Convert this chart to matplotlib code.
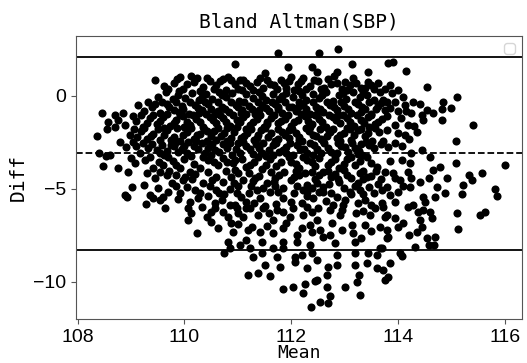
import numpy as np
import matplotlib.pyplot as plt

# limits of agreement
mean_diff = -3.1
upper_loa = 2.1
lower_loa = -8.3

# (mean, diff) points, grouped by vertical band
top_pts = [(110.95, 1.71), (111.76, 2.30), (112.52, 2.30), (112.88, 2.53), (113.14, 1.72),
           (113.82, 1.76), (111.51, 1.26), (111.94, 1.55), (112.38, 1.58), (112.48, 1.31),
           (112.85, 1.31), (113.44, 1.31), (113.91, 1.81), (114.15, 1.35), (114.54, 0.47)]

band_a = [(109.45, 0.86), (109.62, 0.55), (109.80, 0.72), (109.92, 1.04), (110.05, 0.62),
          (110.13, 1.08), (110.23, 0.95), (110.35, 0.50), (110.48, 0.80), (110.60, 0.58),
          (110.72, 0.90), (110.82, 1.04), (110.95, 0.65), (111.04, 0.86), (111.10, 0.86),
          (111.22, 0.52), (111.35, 0.75), (111.54, 0.86), (111.48, 0.45), (111.68, 0.60),
          (111.80, 0.88), (111.90, 0.45), (112.00, 1.04), (112.12, 0.62), (112.22, 0.95),
          (112.35, 0.55), (112.50, 0.78), (112.69, 0.90), (112.62, 0.42), (112.85, 0.68),
          (112.95, 0.40), (113.10, 0.59), (113.16, 0.95), (113.30, 0.45), (113.44, 0.77),
          (113.55, 0.35), (113.66, 0.23), (113.85, 0.59), (114.00, 0.32), (113.88, 0.14),
          (109.70, 0.35), (109.86, 0.90), (109.98, 0.40), (110.18, 0.75), (110.30, 0.28),
          (110.42, 0.95), (110.55, 0.38), (110.66, 0.78), (110.78, 0.32), (110.88, 0.85),
          (111.00, 0.40), (111.16, 0.70), (111.28, 0.30), (111.42, 0.95), (111.60, 0.62),
          (111.74, 0.35), (111.86, 0.70), (111.96, 0.78), (112.06, 0.30), (112.18, 0.82),
          (112.28, 0.38), (112.42, 0.85), (112.56, 0.35), (112.75, 0.62), (112.80, 1.05),
          (113.00, 0.75), (113.05, 0.30), (113.22, 0.70), (113.38, 0.42), (113.50, 0.60),
          (113.62, 0.72), (113.75, 0.40)]

band_b = [(109.51, -0.04), (109.32, -0.31), (109.65, 0.20), (109.78, -0.15), (109.90, 0.25),
          (110.02, -0.10), (110.15, 0.18), (110.28, -0.22), (110.40, 0.10), (110.52, -0.18),
          (110.65, 0.22), (110.78, -0.05), (110.90, 0.15), (111.02, -0.25), (111.15, 0.12),
          (111.28, -0.10), (111.40, 0.20), (111.52, -0.20), (111.65, 0.08), (111.78, -0.15),
          (111.90, 0.18), (112.03, -0.05), (112.15, 0.25), (112.28, -0.20), (112.40, 0.10),
          (112.52, -0.12), (112.65, 0.20), (112.78, -0.25), (112.90, 0.05), (113.02, -0.15),
          (113.15, 0.22), (113.28, -0.08), (113.41, 0.05), (113.55, -0.20), (113.72, -0.22),
          (113.79, -0.31), (113.94, -0.31), (114.10, -0.04),
          (109.58, -0.30), (109.72, -0.62), (109.84, -0.35), (109.98, -0.72), (110.10, -0.30),
          (110.25, -0.65), (110.38, -0.32), (110.50, -0.70), (110.62, -0.35), (110.76, -0.68),
          (110.88, -0.30), (111.00, -0.62), (111.12, -0.35), (111.26, -0.72), (111.38, -0.30),
          (111.52, -0.65), (111.64, -0.32), (111.76, -0.70), (111.88, -0.35), (112.02, -0.62),
          (112.15, -0.30), (112.28, -0.70), (112.41, -0.32), (112.54, -0.68), (112.67, -0.30),
          (112.80, -0.62), (112.93, -0.35), (113.06, -0.70), (113.19, -0.30), (113.32, -0.62),
          (113.45, -0.35), (113.58, -0.72), (113.68, -0.40), (113.85, -0.65), (114.00, -0.80),
          (114.15, -0.80)]

band_c = [(108.45, -0.93), (108.70, -1.02), (108.85, -0.93), (109.04, -1.08), (109.13, -0.49),
          (109.25, -0.80), (109.40, -0.60), (109.55, -0.90), (109.68, -0.45), (109.80, -0.75),
          (109.95, -0.55), (110.08, -0.95), (110.20, -0.50), (110.33, -0.78), (110.45, -0.45),
          (110.58, -0.95), (110.70, -0.60), (110.83, -0.85), (110.96, -0.48), (111.08, -0.75),
          (111.20, -0.55), (111.33, -0.95), (111.45, -0.50), (111.58, -0.80), (111.70, -0.45),
          (111.83, -0.92), (111.96, -0.60), (112.09, -0.82), (112.22, -0.48), (112.35, -0.95),
          (112.47, -0.62), (112.60, -0.85), (112.73, -0.50), (112.86, -0.78), (112.99, -0.55),
          (113.12, -0.90), (113.25, -0.45), (113.38, -0.72), (113.50, -0.95), (113.62, -0.55),
          (113.75, -0.75), (114.13, -0.49), (114.28, -0.31), (114.41, -0.43), (114.25, -0.93),
          (114.44, -1.02), (114.54, -0.75), (114.66, -0.90), (114.82, -0.72), (114.85, -0.31),
          (115.00, -0.66), (115.10, -0.04)]

band_d = [(108.57, -1.38), (108.76, -1.29), (108.89, -1.56), (109.10, -1.35), (109.22, -1.65),
          (109.35, -1.20), (109.48, -1.50), (109.60, -1.15), (109.73, -1.62), (109.85, -1.30),
          (109.98, -1.10), (110.10, -1.55), (110.22, -1.25), (110.35, -1.68), (110.47, -1.15),
          (110.60, -1.45), (110.72, -1.20), (110.85, -1.60), (110.98, -1.30), (111.10, -1.12),
          (111.23, -1.55), (111.36, -1.25), (111.49, -1.65), (111.62, -1.18), (111.75, -1.48),
          (111.88, -1.22), (112.00, -1.62), (112.13, -1.30), (112.26, -1.10), (112.39, -1.52),
          (112.52, -1.25), (112.65, -1.65), (112.78, -1.15), (112.91, -1.45), (113.04, -1.20),
          (113.17, -1.62), (113.30, -1.30), (113.43, -1.12), (113.56, -1.50), (113.69, -1.25),
          (113.94, -1.56), (114.19, -1.56), (114.47, -1.29), (114.82, -1.29), (115.41, -1.56),
          (109.18, -1.05), (109.30, -1.45), (109.42, -1.00), (109.55, -1.35), (109.67, -0.98),
          (109.80, -1.45), (109.92, -1.00), (110.04, -1.38), (110.16, -1.00), (110.29, -1.42),
          (110.41, -0.98), (110.54, -1.30), (110.66, -1.00), (110.78, -1.40), (110.91, -1.05),
          (111.04, -1.42), (111.16, -0.98), (111.29, -1.38), (111.42, -1.05), (111.55, -1.40),
          (111.68, -1.00), (111.81, -1.35), (111.94, -1.02), (112.06, -1.42), (112.19, -0.98),
          (112.32, -1.35), (112.45, -1.02), (112.58, -1.42), (112.71, -1.00), (112.84, -1.32),
          (112.97, -1.00), (113.10, -1.40), (113.23, -1.02), (113.36, -1.45), (113.49, -1.05),
          (113.62, -1.38), (113.80, -1.10), (114.05, -1.20), (114.30, -1.60)]

band_e = [(108.55, -1.80), (108.36, -2.16), (108.79, -2.46), (108.98, -2.10), (109.04, -2.46),
          (109.18, -1.90), (109.30, -2.30), (109.42, -2.05), (109.55, -2.40), (109.67, -1.85),
          (109.80, -2.20), (109.92, -2.45), (110.05, -1.95), (110.18, -2.30), (110.30, -2.05),
          (110.43, -2.42), (110.55, -1.88), (110.68, -2.18), (110.80, -2.45), (110.93, -1.92),
          (111.05, -2.25), (111.18, -2.00), (111.30, -2.40), (111.43, -1.85), (111.56, -2.20),
          (111.69, -2.45), (111.82, -1.95), (111.95, -2.28), (112.08, -2.02), (112.21, -2.42),
          (112.34, -1.88), (112.47, -2.15), (112.60, -2.45), (112.73, -1.92), (112.86, -2.25),
          (112.99, -2.00), (113.12, -2.40), (113.25, -1.85), (113.38, -2.18), (113.51, -2.45),
          (113.64, -1.95), (113.72, -2.41), (114.00, -2.01), (114.13, -2.10), (114.35, -1.92),
          (115.08, -2.41),
          (108.70, -1.70), (109.05, -1.80), (109.12, -2.20), (109.25, -1.75), (109.37, -2.15),
          (109.50, -1.78), (109.62, -2.12), (109.74, -2.40), (109.86, -1.75), (109.98, -2.12),
          (110.12, -1.75), (110.24, -2.12), (110.37, -1.78), (110.49, -2.15), (110.62, -1.75),
          (110.74, -2.00), (110.87, -2.25), (110.99, -1.70), (111.12, -2.15), (111.24, -1.78),
          (111.37, -2.12), (111.50, -1.75), (111.62, -2.00), (111.75, -1.78), (111.88, -2.12),
          (112.01, -1.80), (112.14, -2.20), (112.27, -1.75), (112.40, -2.10), (112.53, -1.80),
          (112.66, -2.15), (112.79, -1.78), (112.92, -2.10), (113.05, -1.75), (113.18, -2.12),
          (113.31, -1.80), (113.44, -2.02), (113.57, -1.75), (113.80, -1.85), (114.20, -2.30)]

band_f = [(108.40, -3.09), (108.54, -3.23), (108.60, -3.18), (109.17, -3.09), (109.32, -2.82),
          (109.48, -2.91), (109.62, -3.20), (109.75, -2.65), (109.88, -3.00), (110.00, -2.70),
          (110.12, -3.25), (110.25, -2.85), (110.38, -3.10), (110.52, -2.60), (110.65, -3.00),
          (110.79, -2.82), (110.90, -3.20), (111.04, -3.09), (111.15, -2.70), (111.28, -3.15),
          (111.40, -2.80), (111.53, -3.25), (111.65, -2.62), (111.78, -3.00), (111.90, -2.75),
          (112.03, -3.20), (112.16, -2.85), (112.29, -3.10), (112.42, -2.65), (112.55, -3.05),
          (112.68, -2.78), (112.81, -3.22), (112.94, -2.70), (113.07, -3.00), (113.20, -2.80),
          (113.33, -3.18), (113.46, -2.65), (113.94, -2.55), (114.44, -2.91), (114.25, -3.09),
          (114.60, -3.27),
          (108.90, -2.75), (109.10, -2.70), (109.22, -2.55), (109.40, -2.60), (109.58, -2.65),
          (109.68, -2.95), (109.82, -2.55), (109.95, -2.85), (110.06, -2.50), (110.18, -2.70),
          (110.32, -2.55), (110.45, -2.80), (110.58, -2.90), (110.72, -2.60), (110.85, -2.55),
          (110.97, -2.85), (111.10, -2.50), (111.22, -2.88), (111.34, -2.60), (111.47, -2.55),
          (111.59, -2.90), (111.72, -2.55), (111.84, -2.90), (111.97, -2.55), (112.10, -2.62),
          (112.23, -2.88), (112.36, -2.55), (112.49, -2.85), (112.62, -2.55), (112.75, -3.00),
          (112.88, -2.52), (113.01, -2.75), (113.14, -2.55), (113.27, -2.95), (113.40, -2.50),
          (113.55, -2.80), (113.68, -2.60), (113.82, -2.75), (114.08, -2.70)]

band_g = [(108.47, -3.77), (108.76, -3.90), (108.95, -4.08), (109.07, -3.63), (109.26, -3.45),
          (109.42, -3.90), (109.60, -3.72), (109.78, -3.50), (109.92, -3.90), (110.10, -4.08),
          (110.29, -3.90), (110.45, -3.45), (110.63, -3.72), (110.91, -3.63), (111.16, -3.81),
          (110.78, -4.05), (111.00, -4.15), (111.30, -3.55), (111.45, -3.95), (111.60, -3.40),
          (111.72, -3.80), (111.87, -4.10), (112.00, -3.55), (112.15, -3.90), (112.30, -3.45),
          (112.45, -3.75), (112.60, -4.12), (112.75, -3.55), (112.90, -3.88), (113.05, -3.40),
          (113.20, -3.70), (113.35, -4.05), (113.50, -3.60), (113.75, -4.08), (113.91, -4.17),
          (114.07, -3.45), (114.22, -3.63), (114.19, -4.08), (114.66, -3.99), (114.79, -3.81),
          (116.00, -3.72), (115.58, -4.13), (115.08, -3.60),
          (109.00, -3.35), (109.35, -3.30), (109.52, -3.55), (109.70, -3.30), (109.85, -3.70),
          (110.00, -3.40), (110.18, -3.65), (110.35, -3.30), (110.55, -3.55), (110.72, -3.35),
          (110.80, -3.55), (111.08, -3.40), (111.22, -3.70), (111.38, -3.30), (111.52, -3.70),
          (111.66, -3.20), (111.80, -3.55), (111.95, -3.30), (112.08, -3.65), (112.22, -3.30),
          (112.38, -3.55), (112.52, -3.35), (112.68, -3.70), (112.82, -3.40), (112.98, -3.65),
          (113.12, -3.30), (113.28, -3.50), (113.42, -3.30), (113.60, -3.85), (113.85, -3.50)]

band_h = [(109.45, -4.44), (109.67, -4.26), (109.76, -4.71), (109.51, -4.98), (109.01, -4.92),
          (109.98, -4.53), (110.20, -5.07), (110.35, -4.71), (110.60, -5.07), (110.73, -4.62),
          (110.88, -4.35), (111.10, -4.53), (111.25, -4.85), (111.40, -4.30), (111.55, -4.70),
          (111.70, -4.40), (111.85, -4.95), (112.00, -4.55), (112.15, -4.25), (112.30, -4.80),
          (112.45, -4.45), (112.60, -4.90), (112.75, -4.35), (112.90, -4.65), (113.05, -4.25),
          (113.20, -4.85), (113.35, -4.50), (113.50, -4.30), (113.62, -4.75), (113.79, -4.91),
          (114.04, -4.53), (114.25, -4.44), (114.41, -4.62), (114.57, -4.44), (114.72, -4.91),
          (114.91, -4.44), (115.33, -4.26), (115.38, -4.53), (115.22, -4.80), (115.81, -5.03),
          (114.22, -4.91),
          (109.30, -4.15), (109.55, -4.10), (109.85, -4.25), (110.02, -4.35), (110.20, -4.20),
          (110.45, -4.10), (110.60, -4.35), (110.95, -4.00), (111.20, -4.15), (111.33, -4.40),
          (111.62, -4.10), (111.78, -4.25), (112.08, -4.05), (112.25, -4.15), (112.38, -4.10),
          (112.52, -4.25), (112.68, -4.05), (112.82, -4.20), (112.98, -4.00), (113.12, -4.40),
          (113.28, -4.15), (113.42, -4.35), (113.58, -4.05), (113.68, -4.45), (113.95, -4.40)]

band_i = [(108.89, -5.34), (108.92, -5.43), (109.35, -5.34), (109.60, -5.43), (109.29, -5.84),
          (109.42, -5.52), (109.54, -5.61), (109.63, -6.02), (109.88, -5.55), (109.92, -5.25),
          (110.10, -5.70), (110.32, -5.97), (110.45, -5.40), (110.70, -5.60), (110.98, -5.25),
          (110.85, -5.85), (111.15, -5.70), (111.41, -5.52), (111.60, -5.20), (111.85, -5.52),
          (112.05, -5.25), (112.20, -5.75), (112.41, -5.52), (112.60, -5.15), (112.85, -5.43),
          (112.97, -5.88), (113.10, -5.20), (113.38, -5.61), (113.55, -5.25), (113.69, -5.79),
          (113.72, -5.97), (113.85, -5.34), (114.00, -5.16), (114.47, -5.43), (114.88, -5.25),
          (115.19, -5.30), (115.85, -5.40), (114.69, -5.43), (114.50, -5.70), (114.28, -5.88),
          (114.19, -5.97),
          (109.25, -4.80), (109.85, -4.85), (110.05, -4.90), (110.48, -4.85), (110.85, -5.00),
          (111.00, -4.85), (111.35, -5.05), (111.48, -4.95), (111.70, -4.85), (112.10, -4.85),
          (112.22, -5.05), (112.38, -4.95), (112.52, -5.15), (112.70, -4.75), (112.98, -4.95),
          (113.12, -5.30), (113.28, -5.05), (113.45, -4.90), (113.70, -5.05), (114.10, -4.85),
          (110.25, -5.50), (110.58, -5.75), (110.75, -5.30), (111.05, -5.45), (111.30, -5.75),
          (111.72, -5.80), (112.00, -5.70), (112.30, -5.40), (112.65, -5.65), (112.78, -5.85),
          (113.25, -5.75), (113.50, -5.90), (113.95, -5.70)]

band_j = [(110.07, -6.06), (110.13, -6.33), (110.42, -6.51), (110.57, -6.06), (110.73, -6.24),
          (110.82, -6.51), (110.88, -6.86), (110.07, -6.68), (110.98, -6.06), (111.10, -6.51),
          (111.16, -6.06), (111.23, -6.06), (111.38, -6.42), (111.48, -6.06), (111.66, -6.68),
          (111.73, -6.15), (111.98, -6.51), (112.04, -6.06), (112.22, -6.42), (112.29, -5.97),
          (112.48, -6.68), (112.51, -6.06), (112.72, -6.15), (112.76, -6.86), (112.91, -6.42),
          (113.13, -6.95), (113.22, -6.33), (113.38, -6.95), (113.47, -6.42), (113.57, -6.06),
          (113.79, -6.42), (113.75, -6.51), (114.47, -6.15), (114.60, -6.24), (114.38, -6.24),
          (114.63, -6.59), (114.41, -6.68), (114.10, -6.86), (115.11, -6.33), (115.53, -6.42),
          (115.63, -6.24)]

band_k = [(110.23, -7.40), (110.91, -7.31), (110.82, -7.85), (111.19, -7.22), (111.26, -7.04),
          (111.41, -7.31), (111.66, -7.40), (111.85, -7.13), (112.20, -7.13), (112.38, -7.31),
          (112.54, -7.22), (112.10, -7.49), (112.72, -7.49), (113.16, -7.40), (113.66, -7.04),
          (113.79, -7.67), (111.16, -7.76), (111.45, -7.85), (111.85, -7.85), (112.10, -7.85),
          (112.82, -7.94), (113.19, -7.85), (114.00, -7.04), (113.79, -7.22), (113.82, -7.58),
          (114.44, -7.04), (114.35, -7.31), (114.54, -7.67), (114.69, -7.58), (115.13, -7.19),
          (110.50, -6.80), (110.62, -7.10), (111.00, -6.90), (111.55, -7.00), (111.90, -6.85),
          (112.35, -6.95), (112.60, -7.60), (112.95, -7.20), (113.30, -7.65), (113.50, -7.30),
          (113.95, -6.60), (114.20, -7.50)]

band_l = [(110.85, -8.21), (110.74, -8.45), (111.04, -8.03), (111.23, -8.21), (111.66, -8.21),
          (111.85, -8.21), (112.35, -8.03), (112.38, -8.48), (112.20, -8.57), (112.07, -8.66),
          (111.73, -8.66), (111.29, -8.66), (111.45, -8.48), (112.85, -8.57), (113.19, -8.48),
          (113.44, -8.48), (113.66, -8.21), (113.60, -8.57), (112.07, -8.93), (112.48, -8.84),
          (114.57, -8.03), (114.68, -8.03), (114.32, -8.12), (113.69, -8.21), (114.04, -8.48),
          (114.07, -8.61), (113.85, -9.02)]

bottom_pts = [(111.19, -9.65), (111.38, -9.56), (111.60, -9.70), (111.51, -9.11), (111.79, -9.20),
              (112.29, -9.29), (112.69, -9.20), (112.85, -9.11), (112.66, -9.65), (113.19, -9.11),
              (113.41, -9.02), (113.26, -9.65), (113.60, -9.29), (113.72, -9.38), (113.82, -9.74),
              (113.75, -9.92), (111.85, -10.42), (112.03, -10.28), (112.26, -10.13), (112.22, -10.60),
              (112.44, -9.97), (112.66, -10.31), (112.72, -10.76), (112.54, -11.09), (112.69, -11.18),
              (112.37, -11.36), (113.00, -10.31), (113.29, -10.73), (113.24, -10.01), (112.48, -9.92)]

# extra points filling the dense core
core_extra = [(109.88, 0.05), (110.33, -0.05), (110.70, 0.05), (111.08, 0.30), (111.45, -0.02),
              (111.83, 0.02), (112.20, 0.05), (112.58, 0.05), (112.97, 0.18), (113.35, 0.22),
              (109.45, -0.45), (109.90, -0.85), (110.27, -0.92), (110.63, -0.82), (111.05, -0.90),
              (111.40, -0.78), (111.75, -0.62), (112.12, -0.58), (112.50, -0.88), (112.88, -1.05),
              (113.30, -0.85), (109.62, -1.75), (110.00, -1.65), (110.42, -1.90), (110.80, -1.75),
              (111.15, -1.80), (111.55, -1.50), (111.95, -1.85), (112.35, -1.70), (112.70, -1.90),
              (113.10, -1.80), (113.45, -1.65), (109.80, -2.70), (110.22, -2.45), (110.60, -2.40),
              (111.00, -2.55), (111.35, -2.25), (111.75, -2.30), (112.15, -2.40), (112.55, -2.30),
              (112.92, -2.45), (113.30, -2.60), (109.55, -3.05), (110.05, -3.10), (110.50, -3.20),
              (110.95, -3.45), (111.45, -3.05), (111.90, -3.10), (112.40, -3.20), (112.85, -3.05),
              (113.25, -3.15)]

mid_extra = [(109.72, -4.05), (110.15, -4.45), (110.52, -4.55), (110.92, -4.70), (111.28, -4.60),
             (111.68, -4.65), (112.05, -4.35), (112.48, -4.70), (112.88, -4.45), (113.25, -4.70),
             (109.70, -5.15), (110.30, -5.25), (110.65, -5.25), (111.20, -5.25), (111.75, -5.20),
             (112.30, -5.20), (112.75, -5.25), (113.35, -5.30), (110.50, -6.25), (111.00, -6.30),
             (111.58, -6.30), (111.85, -6.25), (112.38, -6.25), (112.95, -6.15), (113.35, -6.20),
             (113.00, -5.60), (111.50, -5.95), (110.95, -5.90)]

pts = np.array(top_pts + band_a + band_b + band_c + band_d + band_e + band_f
               + band_g + band_h + band_i + band_j + band_k + band_l + bottom_pts
               + core_extra + mid_extra)
means = pts[:, 0]
diffs = pts[:, 1]

label_font = 'DejaVu Sans Mono'

fig = plt.figure(figsize=(5.27, 3.63), dpi=100)
ax = fig.add_axes([0.1442, 0.1212, 0.8463, 0.7796])

ax.scatter(means, diffs, s=34, color='black', linewidths=0)
ax.axhline(mean_diff, color='black', ls='--', lw=1.3)
ax.axhline(upper_loa, color='black', ls='-', lw=1.3)
ax.axhline(lower_loa, color='black', ls='-', lw=1.3)

ax.set_xlim(107.97, 116.32)
ax.set_ylim(-12.02, 3.23)
ax.set_xticks([108, 110, 112, 114, 116])
ax.set_yticks([0, -5, -10])

ax.set_title('Bland Altman(SBP)', fontsize=14, family=label_font)
ax.set_xlabel('Mean', fontsize=13, family=label_font, labelpad=-1)
ax.set_ylabel('Diff', fontsize=14, family=label_font)

for s in ax.spines.values():
    s.set_color('#555555')
ax.tick_params(colors='#555555', labelcolor='black', labelsize=14)
for t in ax.get_xticklabels() + ax.get_yticklabels():
    t.set_family('Liberation Sans')

ax.legend()

fig.savefig('out.png', dpi=100)
